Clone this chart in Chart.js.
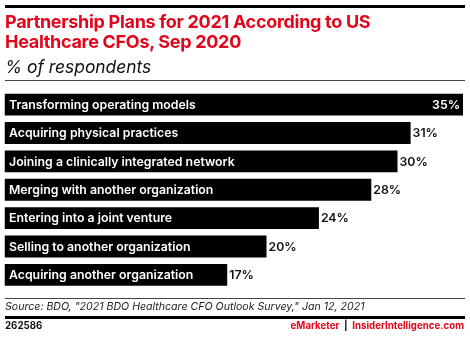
<!DOCTYPE html>
<html>
<head>
<meta charset="utf-8">
<script src="https://cdn.jsdelivr.net/npm/chart.js@4.4.1/dist/chart.umd.min.js"></script>
<style>
  body { margin: 0; background: #fff; font-family: Inter, "Liberation Sans", sans-serif; }
  #wrap { position: relative; width: 470px; height: 337px; overflow: hidden; }
  #chart { position: absolute; left: 0; top: 0; }
  .rule { position: absolute; left: 5px; width: 460px; background: #000; }
  .txt { position: absolute; left: 5px; white-space: nowrap; }
  #title { top: 12px; font-size: 18px; font-weight: 700; line-height: 19.5px; color: #e3051b; letter-spacing: -0.3px; }
  #sub { top: 56px; font-size: 17.4px; font-style: italic; color: #111; }
  #source { top: 300px; font-size: 10.6px; font-style: italic; color: #222; }
  #id { top: 320px; font-size: 9.7px; font-weight: 700; color: #111; }
  #brand { top: 320px; left: auto; right: 6px; font-size: 9.7px; font-weight: 700; color: #e3051b; }
  #brand span { color: #111; }
</style>
</head>
<body>
<div id="wrap">
  <canvas id="chart" width="470" height="337"></canvas>
  <div class="rule" style="top:5px;height:3px"></div>
  <div class="txt" id="title">Partnership Plans for 2021 According to US<br>Healthcare CFOs, Sep 2020</div>
  <div class="txt" id="sub">% of respondents</div>
  <div class="rule" style="top:80px;height:1px;background:#444"></div>
  <div class="rule" style="top:298px;height:1px;background:#444"></div>
  <div class="txt" id="source">Source: BDO, "2021 BDO Healthcare CFO Outlook Survey," Jan 12, 2021</div>
  <div class="rule" style="top:316px;height:2.5px"></div>
  <div class="txt" id="id">262586</div>
  <div class="txt" id="brand">eMarketer <span>&nbsp;|&nbsp;</span> InsiderIntelligence.com</div>
</div>
<script>
const categories = [
  'Transforming operating models',
  'Acquiring physical practices',
  'Joining a clinically integrated network',
  'Merging with another organization',
  'Entering into a joint venture',
  'Selling to another organization',
  'Acquiring another organization'
];
const values = [35, 31, 30, 28, 24, 20, 17];

const labelFont = '600 12.3px Inter, "Liberation Sans", sans-serif';

// category names inside the bars, percentages at the bar ends
const barLabels = {
  id: 'barLabels',
  afterDatasetsDraw(chart) {
    const ctx = chart.ctx;
    const area = chart.chartArea;
    const meta = chart.getDatasetMeta(0);
    ctx.save();
    ctx.font = labelFont;
    ctx.textBaseline = 'middle';
    meta.data.forEach((bar, i) => {
      const left = bar.base;
      ctx.fillStyle = '#fff';
      ctx.textAlign = 'left';
      ctx.fillText(categories[i], left + 4.5, bar.y + 0.5);
      const txt = values[i] + '%';
      const w = ctx.measureText(txt).width;
      if (bar.x + w + 4 > area.right) {
        ctx.textAlign = 'right';
        ctx.fillText(txt, bar.x - 3, bar.y + 0.5);
      } else {
        ctx.fillStyle = '#111';
        ctx.textAlign = 'left';
        ctx.fillText(txt, bar.x + 2, bar.y + 0.5);
      }
    });
    ctx.restore();
  }
};

new Chart(document.getElementById('chart').getContext('2d'), {
  type: 'bar',
  data: {
    labels: categories,
    datasets: [{
      data: values,
      backgroundColor: '#000',
      categoryPercentage: 0.77,
      barPercentage: 1
    }]
  },
  options: {
    indexAxis: 'y',
    responsive: false,
    animation: false,
    layout: { padding: { top: 90.5, bottom: 48, left: 4.5, right: 7 } },
    scales: {
      x: { display: false, min: 0, max: 35 },
      y: { display: false }
    },
    plugins: {
      legend: { display: false },
      tooltip: { enabled: false }
    }
  },
  plugins: [barLabels]
});
</script>
</body>
</html>
